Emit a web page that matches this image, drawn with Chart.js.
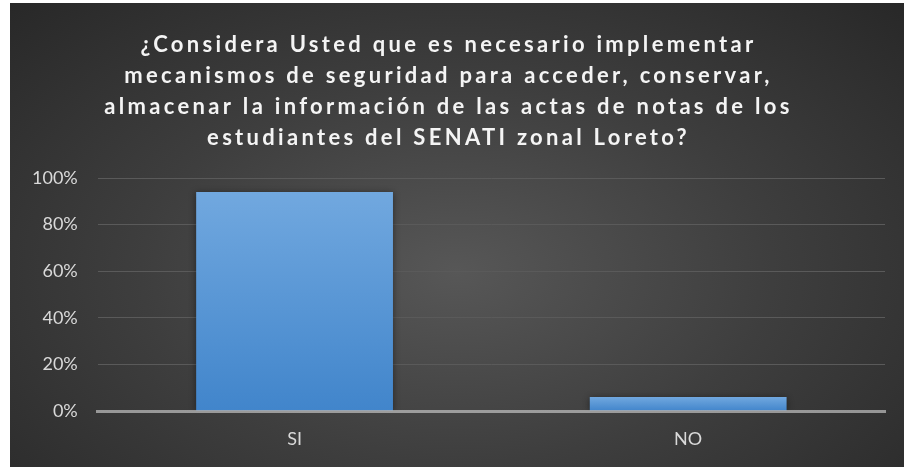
<!DOCTYPE html>
<html>
<head>
<meta charset="utf-8">
<script src="https://cdn.jsdelivr.net/npm/chart.js@4/dist/chart.umd.min.js"></script>
<style>
  html, body { margin: 0; padding: 0; background: #fff; }
  #wrap {
    position: absolute; left: 10px; top: 3px; width: 894px; height: 464px;
    background: radial-gradient(ellipse farthest-corner at 50% 58%, #575757 0%, #3e3e3e 50%, #282828 100%);
  }
</style>
</head>
<body>
<div id="wrap"><canvas id="chart" width="894" height="464"></canvas></div>
<script>
// datos de la encuesta
const categorias = ['SI', 'NO'];
const porcentajes = [94, 6];
const tituloLineas = [
  '¿Considera Usted que es necesario implementar',
  'mecanismos de seguridad para acceder, conservar,',
  'almacenar la información de las actas de notas de los',
  'estudiantes del SENATI zonal Loreto?'
];
const ticksY = [0, 20, 40, 60, 80, 100];

const ctx = document.getElementById('chart').getContext('2d');

// degradado por barra (claro arriba, oscuro abajo)
function colorBarra(c) {
  const sy = c.chart.scales.y;
  if (!sy || c.raw == null) return '#5b9bd5';
  const top = sy.getPixelForValue(c.raw);
  const bot = sy.getPixelForValue(0);
  if (!isFinite(top) || !isFinite(bot) || top === bot) return '#5b9bd5';
  const g = c.chart.ctx.createLinearGradient(0, top, 0, bot);
  g.addColorStop(0, '#71a8df');
  g.addColorStop(1, '#4185cb');
  return g;
}

// espaciado de letras solo para el titulo + sombra de barras
const extras = {
  id: 'extras',
  beforeDraw(chart) {
    const tb = chart.titleBlock;
    if (tb && !tb._spaced) {
      const orig = tb.draw.bind(tb);
      tb.draw = function () {
        chart.ctx.save();
        chart.ctx.letterSpacing = '3.3px';
        orig();
        chart.ctx.restore();
      };
      tb._spaced = true;
    }
  },
  beforeDatasetsDraw(chart) {
    chart.ctx.save();
    chart.ctx.shadowColor = 'rgba(0,0,0,0.45)';
    chart.ctx.shadowBlur = 7;
    chart.ctx.shadowOffsetX = 0;
    chart.ctx.shadowOffsetY = 1;
  },
  afterDatasetsDraw(chart) {
    chart.ctx.restore();
  }
};

new Chart(ctx, {
  type: 'bar',
  data: {
    labels: categorias,
    datasets: [{
      data: porcentajes,
      backgroundColor: colorBarra,
      borderWidth: 0,
      categoryPercentage: 0.5,
      barPercentage: 1
    }]
  },
  options: {
    responsive: false,
    animation: false,
    layout: { padding: { left: 2, right: 19, top: 0, bottom: 0 } },
    plugins: {
      legend: { display: false },
      tooltip: { enabled: false },
      title: {
        display: true,
        text: tituloLineas,
        color: '#f4f4f4',
        font: { family: 'Lato', size: 22, weight: 'bold', lineHeight: 1.41 },
        padding: { top: 26, bottom: 25 }
      }
    },
    scales: {
      x: {
        grid: { display: false, drawTicks: false },
        border: { display: true, color: 'rgba(217,217,217,0.6)', width: 3, z: 1 },
        ticks: { color: '#d9d9d9', font: { family: 'Lato', size: 18, lineHeight: 1 }, padding: 19 }
      },
      y: {
        min: 0,
        max: 100,
        afterBuildTicks(scale) { scale.ticks = ticksY.map(v => ({ value: v })); },
        grid: {
          color: c => c.tick && c.tick.value === 0 ? 'rgba(0,0,0,0)' : '#5a5a5a',
          lineWidth: 1,
          drawTicks: false
        },
        border: { display: false },
        ticks: {
          color: '#d9d9d9',
          font: { family: 'Lato', size: 18 },
          padding: 20,
          callback: v => v + '%'
        }
      }
    }
  },
  plugins: [extras]
});
</script>
</body>
</html>
